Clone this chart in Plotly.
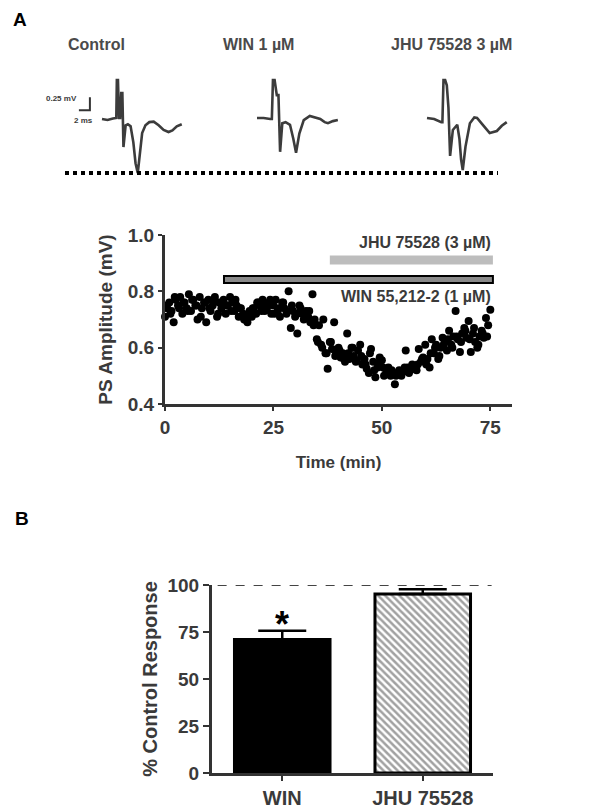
import plotly.graph_objects as go

# page body keeps an 8px margin at top/left, so the figure is shifted by 8px
PAGE_W, PAGE_H, BODY = 604, 811, 8
W, H = PAGE_W - 2 * BODY, PAGE_H - BODY


def px_x(p):
    return (p - BODY) / W


def px_y(p):
    return 1 - (p - BODY) / H


# ---- panel A top: example field potentials (ms, mV) ----
trace_titles = ["Control", "WIN 1 µM", "JHU 75528 3 µM"]
ctrl_t = [0, 1.0, 2.0, 2.6, 2.7, 2.9, 3.1, 3.3, 3.5, 3.7, 3.9, 4.3, 4.7, 5.2, 5.7, 6.1, 6.5, 6.9,
          7.3, 7.9, 8.6, 9.4, 10.3, 11.2, 12.1, 12.8, 13.6, 14.5]
ctrl_v = [0, -0.02, 0.01, 0.02, 0.75, 0.75, 0.02, 0.02, 0.50, 0.50, -0.54, -0.12, -0.10, -0.14, -0.45,
          -0.85, -1.04, -0.62, -0.27, -0.12, -0.06, -0.05, -0.12, -0.21, -0.25, -0.22, -0.14, -0.10]
win_t = [0, 1.2, 2.4, 2.7, 2.9, 3.2, 3.6, 3.9, 4.2, 4.6, 5.2, 6.0, 6.6, 7.1, 7.7, 8.5, 9.6, 10.5,
         11.5, 12.3, 12.9, 13.8, 14.7]
win_v = [0, 0, -0.02, -0.02, 0.73, 0.73, 0.44, 0.44, -0.65, -0.10, -0.08, -0.13, -0.40, -0.67, -0.30,
         -0.04, 0.04, 0.01, -0.02, -0.08, -0.10, -0.06, -0.04]
jhu_t = [0, 1.3, 2.6, 2.8, 3.0, 3.3, 3.6, 3.9, 4.2, 4.7, 5.5, 5.9, 6.2, 6.5, 7.0, 7.8, 8.6, 9.1,
         10.3, 11.4, 12.7, 13.6, 14.5]
jhu_v = [0, -0.02, -0.08, -0.08, 0.73, 0.73, 0.63, 0.20, -0.73, -0.23, -0.13, -0.40, -0.80, -1.00,
         -0.55, -0.10, 0.01, 0.00, -0.15, -0.29, -0.25, -0.15, -0.08]
trace_t = [ctrl_t, win_t, jhu_t]
trace_v = [ctrl_v, win_v, jhu_v]
scalebar_t = [-4.2, -2.2, -2.2]
scalebar_v = [0.17, 0.17, 0.42]

# ---- panel A bottom: PS amplitude time course ----
time_min = [0.0, 0.5, 1.0, 1.5, 2.0, 2.5, 3.0, 3.5, 4.0, 4.5,
            5.0, 5.5, 6.0, 6.5, 7.0, 7.5, 8.0, 8.5, 9.0, 9.5,
            10.0, 10.5, 11.0, 11.5, 12.0, 12.5, 13.0, 13.5, 14.0, 14.5,
            15.0, 15.5, 16.0, 16.5, 17.0, 17.5, 18.0, 18.5, 19.0, 19.5,
            20.0, 20.5, 21.0, 21.5, 22.0, 22.5, 23.0, 23.5, 24.0, 24.5,
            25.0, 25.5, 26.0, 26.5, 27.0, 27.5, 28.0, 28.5, 29.0, 29.5,
            30.0, 30.5, 31.0, 31.5, 32.0, 32.5, 33.0, 33.5, 34.0, 34.5,
            35.0, 35.5, 36.0, 36.5, 37.0, 37.5, 38.0, 38.5, 39.0, 39.5,
            40.0, 40.5, 41.0, 41.5, 42.0, 42.5, 43.0, 43.5, 44.0, 44.5,
            45.0, 45.5, 46.0, 46.5, 47.0, 47.5, 48.0, 48.5, 49.0, 49.5,
            50.0, 50.5, 51.0, 51.5, 52.0, 52.5, 53.0, 53.5, 54.0, 54.5,
            55.0, 55.5, 56.0, 56.5, 57.0, 57.5, 58.0, 58.5, 59.0, 59.5,
            60.0, 60.5, 61.0, 61.5, 62.0, 62.5, 63.0, 63.5, 64.0, 64.5,
            65.0, 65.5, 66.0, 66.5, 67.0, 67.5, 68.0, 68.5, 69.0, 69.5,
            70.0, 70.5, 71.0, 71.5, 72.0, 72.5, 73.0, 73.5, 74.0, 74.5,
            75.0,
            0.25, 1.25, 2.25, 3.25, 4.25, 5.25, 6.25, 7.25, 8.25, 9.25,
            10.25, 11.25, 12.25, 13.25, 14.25, 15.25, 16.25, 17.25, 18.25, 19.25,
            20.25, 21.25, 22.25, 23.25, 24.25, 25.25, 26.25, 27.25, 28.25, 29.25,
            30.25, 31.25, 32.25, 33.25, 34.25, 35.25, 36.25, 37.25, 38.25, 39.25,
            40.25, 41.25, 42.25, 43.25, 44.25, 45.25, 46.25, 47.25, 48.25, 49.25,
            50.25, 51.25, 52.25, 53.25, 54.25, 55.25, 56.25, 57.25, 58.25, 59.25,
            60.25, 61.25, 62.25, 63.25, 64.25, 65.25, 66.25, 67.25, 68.25, 69.25,
            70.25, 71.25, 72.25, 73.25, 74.25]
ps_amp = [0.71, 0.74, 0.76, 0.73, 0.69, 0.77, 0.75, 0.78, 0.72, 0.76,
          0.74, 0.79, 0.73, 0.77, 0.75, 0.70, 0.78, 0.74, 0.76, 0.69,
          0.77, 0.73, 0.75, 0.78, 0.71, 0.76, 0.74, 0.77, 0.72, 0.75,
          0.78, 0.76, 0.73, 0.75, 0.71, 0.74, 0.72, 0.70, 0.69, 0.73,
          0.71, 0.74, 0.72, 0.76, 0.75, 0.77, 0.73, 0.74, 0.76, 0.72,
          0.75, 0.77, 0.73, 0.71, 0.76, 0.74, 0.72, 0.80, 0.67, 0.73,
          0.71, 0.65, 0.75, 0.72, 0.70, 0.73, 0.71, 0.69, 0.79, 0.70,
          0.63, 0.68, 0.61, 0.70, 0.58, 0.525, 0.62, 0.595, 0.69, 0.58,
          0.60, 0.565, 0.58, 0.55, 0.65, 0.56, 0.60, 0.57, 0.55, 0.59,
          0.61, 0.54, 0.56, 0.525, 0.51, 0.595, 0.55, 0.495, 0.53, 0.565,
          0.555, 0.50, 0.52, 0.53, 0.50, 0.51, 0.47, 0.51, 0.52, 0.50,
          0.515, 0.59, 0.53, 0.52, 0.54, 0.53, 0.52, 0.595, 0.55, 0.565,
          0.61, 0.56, 0.53, 0.63, 0.58, 0.61, 0.56, 0.60, 0.635, 0.62,
          0.59, 0.66, 0.61, 0.64, 0.73, 0.63, 0.585, 0.65, 0.67, 0.635,
          0.695, 0.585, 0.65, 0.62, 0.60, 0.64, 0.66, 0.635, 0.705, 0.68,
          0.735,
          0.75, 0.72, 0.78, 0.74, 0.76, 0.73, 0.77, 0.75, 0.71, 0.76,
          0.74, 0.77, 0.72, 0.76, 0.75, 0.73, 0.77, 0.74, 0.70, 0.72,
          0.74, 0.76, 0.73, 0.75, 0.77, 0.72, 0.74, 0.76, 0.73, 0.75,
          0.72, 0.74, 0.71, 0.73, 0.68, 0.62, 0.60, 0.58, 0.62, 0.57,
          0.59, 0.56, 0.58, 0.60, 0.555, 0.57, 0.54, 0.58, 0.52, 0.545,
          0.53, 0.51, 0.52, 0.50, 0.515, 0.53, 0.51, 0.525, 0.54, 0.56,
          0.54, 0.58, 0.60, 0.57, 0.61, 0.63, 0.60, 0.64, 0.62, 0.66,
          0.63, 0.67, 0.61, 0.65, 0.64]

drug_labels = ["JHU 75528 (3 µM)", "WIN 55,212-2 (1 µM)"]
drug_start = [38.0, 13.6]
drug_end = [75.6, 75.6]
drug_level = [0.911, 0.842]

# ---- panel B: summary ----
groups = ["WIN", "JHU 75528"]
pct_control = [71.0, 95.2]
pct_sem = [4.6, 2.6]

fig = go.Figure()

# traces: each in own little axes, px-per-unit scale shared
ms_px, mv_px = 5.5, 52.0
origins = [(102, 119), (257, 118), (427, 118)]
boxes = [(40, 200), (240, 360), (410, 530)]
for i in range(3):
    n = str(i + 2)
    fig.add_trace(go.Scatter(x=trace_t[i], y=trace_v[i], mode="lines",
                             line=dict(color="#3c3c3c", width=2.6),
                             xaxis="x" + n, yaxis="y" + n, showlegend=False))
fig.add_trace(go.Scatter(x=scalebar_t, y=scalebar_v, mode="lines",
                         line=dict(color="#333", width=2), xaxis="x2", yaxis="y2",
                         showlegend=False))

fig.add_trace(go.Scatter(x=time_min, y=ps_amp, mode="markers",
                         marker=dict(color="black", size=8),
                         xaxis="x", yaxis="y", showlegend=False, cliponaxis=False))

fig.add_trace(go.Bar(x=groups, y=pct_control, width=0.68,
                     marker=dict(color=["black", "white"],
                                 line=dict(color="black", width=3),
                                 pattern=dict(shape=["", "\\"], fgcolor="#222",
                                              fillmode="overlay", size=5, solidity=0.5)),
                     error_y=dict(type="data", array=pct_sem, arrayminus=[0, 0],
                                  symmetric=False, color="black", thickness=2.5, width=24),
                     xaxis="x5", yaxis="y5", showlegend=False))

font_main = dict(family="Liberation Sans, Arial", color="#3a3a3a", weight="bold")
hidden = dict(visible=False, showgrid=False, zeroline=False, fixedrange=True, automargin=False)

layout = dict(
    width=W, height=H, autosize=False,
    margin=dict(l=0, r=0, t=0, b=0, pad=0),
    paper_bgcolor="white", plot_bgcolor="white",
    font=font_main,
    xaxis=dict(domain=[px_x(165), px_x(512)], anchor="y", range=[0, 80], automargin=False,
               tickvals=[0, 25, 50, 75], ticks="outside", ticklen=4, tickwidth=2,
               tickcolor="#333", showline=True, linewidth=3, linecolor="#333",
               showgrid=False, zeroline=False,
               tickfont=dict(size=19, **font_main),
               title=dict(text="Time (min)", font=dict(size=17, **font_main), standoff=20)),
    yaxis=dict(domain=[px_y(404), px_y(235)], anchor="x", range=[0.4, 1.0], automargin=False,
               tickvals=[0.4, 0.6, 0.8, 1.0], tickformat=".1f", ticks="outside",
               ticklen=4, tickwidth=2, tickcolor="#333",
               showline=True, linewidth=3, linecolor="#333",
               showgrid=False, zeroline=False,
               tickfont=dict(size=19, **font_main),
               title=dict(text="PS Amplitude (mV)", font=dict(size=19, **font_main), standoff=11)),
    xaxis5=dict(domain=[px_x(212), px_x(493)], anchor="y5", range=[-0.5, 1.5], automargin=False,
                ticks="outside", ticklen=5, tickwidth=2, tickcolor="#333",
                showline=True, linewidth=3, linecolor="#333", showgrid=False,
                tickfont=dict(size=20, **font_main)),
    yaxis5=dict(domain=[px_y(773), px_y(585)], anchor="x5", range=[0, 100], automargin=False,
                tickvals=[0, 25, 50, 75, 100], ticks="outside", ticklen=6, tickwidth=2,
                tickcolor="#333", showline=True, linewidth=3, linecolor="#333",
                showgrid=False, zeroline=False,
                tickfont=dict(size=19, **font_main),
                title=dict(text="% Control Response", font=dict(size=20, **font_main), standoff=5)),
)
for i in range(3):
    (ox, oy), (b0, b1) = origins[i], boxes[i]
    n = str(i + 2)
    layout["xaxis" + n] = dict(domain=[px_x(b0), px_x(b1)], anchor="y" + n,
                               range=[-(ox - b0) / ms_px, (b1 - ox) / ms_px], **hidden)
    layout["yaxis" + n] = dict(domain=[px_y(180), px_y(60)], anchor="x" + n,
                               range=[-(180 - oy) / mv_px, (oy - 60) / mv_px], **hidden)
fig.update_layout(**layout)

big = dict(size=19, family="Liberation Sans, Arial", color="black", weight="bold")
ann = []
ann.append(dict(x=px_x(20), y=px_y(20), xref="paper", yref="paper", text="A",
                xanchor="center", yanchor="middle", showarrow=False, font=big))
ann.append(dict(x=px_x(22), y=px_y(518), xref="paper", yref="paper", text="B",
                xanchor="center", yanchor="middle", showarrow=False, font=big))
title_x = [96, 259, 451]
for tx, txt in zip(title_x, trace_titles):
    ann.append(dict(x=px_x(tx), y=px_y(45), xref="paper", yref="paper", text=txt,
                    xanchor="center", yanchor="middle", showarrow=False,
                    font=dict(size=16, family="Liberation Sans, Arial", color="#4a4a4a",
                              weight="bold")))
ann.append(dict(x=-7.3, y=0.40, xref="x2", yref="y2", text="0.25 mV", showarrow=False,
                font=dict(size=8, **font_main)))
ann.append(dict(x=-3.4, y=-0.02, xref="x2", yref="y2", text="2 ms", showarrow=False,
                font=dict(size=8, **font_main)))
ann.append(dict(x=drug_end[0], y=0.972, xref="x", yref="y", text=drug_labels[0],
                xanchor="right", showarrow=False, font=dict(size=16, **font_main)))
ann.append(dict(x=drug_end[1], y=0.782, xref="x", yref="y", text=drug_labels[1],
                xanchor="right", showarrow=False, font=dict(size=16, **font_main)))
ann.append(dict(x="WIN", y=79, xref="x5", yref="y5", text="*", showarrow=False,
                yanchor="middle", font=dict(size=36, family="Liberation Sans, Arial",
                                            color="black", weight="bold")))
fig.update_layout(annotations=ann)

shapes = []
shapes.append(dict(type="line", xref="paper", yref="paper", x0=px_x(65), x1=px_x(498),
                   y0=px_y(173), y1=px_y(173), line=dict(color="black", width=4, dash="dot")))
shapes.append(dict(type="rect", xref="x", yref="y", x0=drug_start[0], x1=drug_end[0],
                   y0=drug_level[0] - 0.016, y1=drug_level[0] + 0.016,
                   fillcolor="#bdbdbd", line=dict(width=0)))
shapes.append(dict(type="rect", xref="x", yref="y", x0=drug_start[1], x1=drug_end[1],
                   y0=drug_level[1] - 0.012, y1=drug_level[1] + 0.012,
                   fillcolor="#8a8a8a", line=dict(color="black", width=2)))
shapes.append(dict(type="line", xref="x5", yref="y5", x0=-0.46, x1=1.49, y0=100, y1=100,
                   line=dict(color="#444", width=2, dash="dash")))
fig.update_layout(shapes=shapes)

fig.write_html("out.html")
